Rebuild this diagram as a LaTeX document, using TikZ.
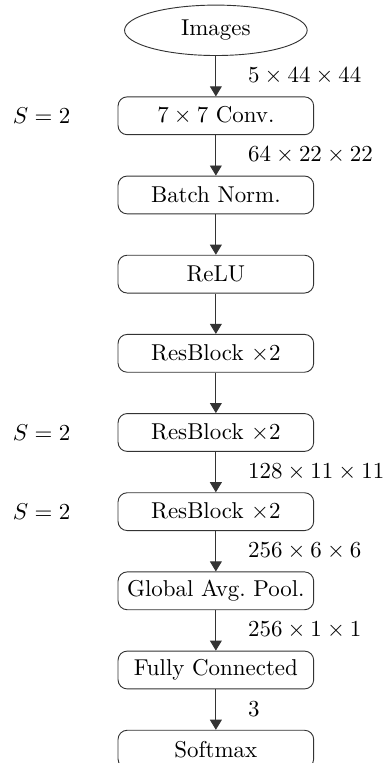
\documentclass[tikz,border=0pt]{standalone}
\usepackage{amsmath}
\usepackage{amssymb}
\usetikzlibrary{positioning,shapes.geometric,arrows.meta}

\tikzset{
	layer/.style={draw=black!80, rounded corners, minimum width=3cm, minimum height=5.8mm},
	flow/.style={draw=black!80, -{Triangle[length=4.4pt,width=5.2pt]}},
}

\begin{document}
\begin{tikzpicture}[node distance=6.2mm]
			\useasboundingbox (0,0) rectangle (5.9,11.7);
			\node[ellipse, draw=black!80, minimum width=2.8cm, minimum height=7.4mm] (img) at (3.31,11.235) {Images};
			\node[layer, below=of img] (conv) {$7\times7$ Conv.};
			\node[layer, below=of conv] (bn) {Batch Norm.};
			\node[layer, below=of bn] (relu) {ReLU};
			\node[layer, below=of relu] (resa) {ResBlock $\times2$};
			\node[layer, below=of resa] (resb) {ResBlock $\times2$};
			\node[layer, below=of resb] (resc) {ResBlock $\times2$};
			\node[layer, below=of resc] (gap) {Global Avg.\ Pool.};
			\node[layer, below=of gap] (fc) {Fully Connected};
			\node[layer, below=of fc] (soft) {Softmax};
			% strides
			\foreach \n in {conv,resb,resc}
				\node[left=6mm of \n] (s\n) {$S=2$};
			% arrows
			\foreach \a/\b in {img/conv,conv/bn,bn/relu,relu/resa,resa/resb,resb/resc,resc/gap,gap/fc,fc/soft}
				\draw[flow] (\a) -- (\b);
			% sizes
			\foreach \a/\b/\t in {img/conv/5\times44\times44,conv/bn/64\times22\times22,resb/resc/128\times11\times11,resc/gap/256\times6\times6,gap/fc/256\times1\times1,fc/soft/3}
				\path (\a) -- node[right=3.7mm] (d\a) {$\t$} (\b);
		\end{tikzpicture}
\end{document}
